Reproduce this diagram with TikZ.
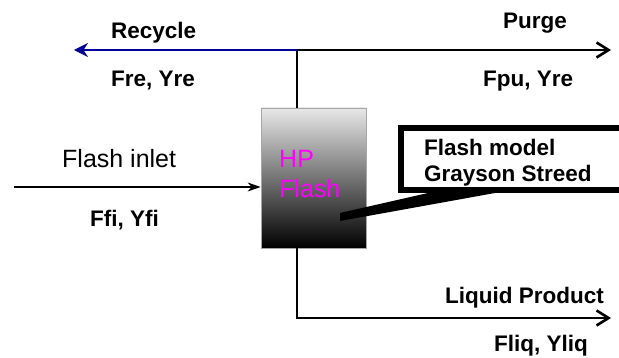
\documentclass[tikz,border=0pt]{standalone}
\usepackage{fontspec}
\setmainfont{Liberation Sans}
\usetikzlibrary{arrows.meta}

\definecolor{recycleblue}{RGB}{0,0,150}
\definecolor{hpmagenta}{RGB}{255,0,255}

\begin{document}
\begin{tikzpicture}[
		x=1pt, y=1pt,
		lbl/.style   ={font=\fontsize{22.5}{26}\selectfont\bfseries,anchor=base west,inner sep=0pt},
		plain/.style ={font=\fontsize{25}{30}\selectfont,anchor=base west,inner sep=0pt},
		vessel/.style={rectangle,draw=gray!70,line width=0.8pt,top color=gray!18,bottom color=black,
			minimum width=105pt,minimum height=140pt,inner sep=0pt},
		calloutbox/.style={rectangle,draw,line width=6pt,minimum width=250pt,minimum height=62pt,inner sep=0pt},
		thinflow/.style ={draw,line width=1.3pt},
		thickflow/.style={draw,line width=2.6pt},
		barb/.style={-{Straight Barb[length=12pt,width=15pt]}}
		]

		\useasboundingbox (0,0) rectangle (619,-358);

		% ---- flash vessel ----
		\node[vessel] (flash) at (313.5,-178) {};
		\node[plain,text=hpmagenta] (hp)    at (279,-168) {HP};
		\node[plain,text=hpmagenta] (flsh)  at (279,-198) {Flash};

		% ---- branch points and free ends ----
		\coordinate (top)        at (297,-50);
		\coordinate (bot)        at (297,-318);
		\coordinate (recycleend) at (74,-50);
		\coordinate (purgeend)   at (611,-50);
		\coordinate (liqend)     at (611,-318);
		\coordinate (inletstart) at (14,-187);

		% ---- vapour: recycle and purge ----
		\draw[thickflow] (top |- flash.north) -- (top);
		\draw[thinflow,draw=recycleblue,-{Stealth[length=14pt,width=14pt]}] (top) -- (recycleend);
		\draw[thickflow,barb] (top) -- (purgeend);

		% ---- feed ----
		\draw[thinflow,-{Stealth[length=13pt,width=9pt]}] (inletstart) -- (inletstart -| flash.west);

		% ---- liquid ----
		\draw[thickflow,barb] (bot |- flash.south) -- (bot) -- (liqend);

		% ---- stream labels ----
		\node[lbl] (recycle) at (111,-39)  {Recycle};
		\node[lbl] (fre)     at (111,-87)  {Fre, Yre};
		\node[lbl] (purge)   at (503,-29)  {Purge};
		\node[lbl] (fpu)     at (483,-87)  {Fpu, Yre};
		\node[plain] (inlet) at (62,-168)  {Flash inlet};
		\node[lbl] (ffi)     at (90,-227)  {Ffi, Yfi};
		\node[lbl] (liq)     at (445,-304) {Liquid Product};
		\node[lbl] (fliq)    at (494,-352) {Fliq, Yliq};

		% ---- callout: thermo model ----
		\node[calloutbox,anchor=north west] (modelbox) at (398,-125) {};
		\node[lbl] (model)  at (424,-156) {Flash model};
		\node[lbl] (grayson) at (424,-182) {Grayson Streed};
		\coordinate (pointer) at (340,-217);
		\fill ([yshift=4pt]pointer) -- ([xshift=30pt]modelbox.south west)
			-- ([xshift=97pt]modelbox.south west) -- ([yshift=-4pt]pointer) -- cycle;

	\end{tikzpicture}
\end{document}
